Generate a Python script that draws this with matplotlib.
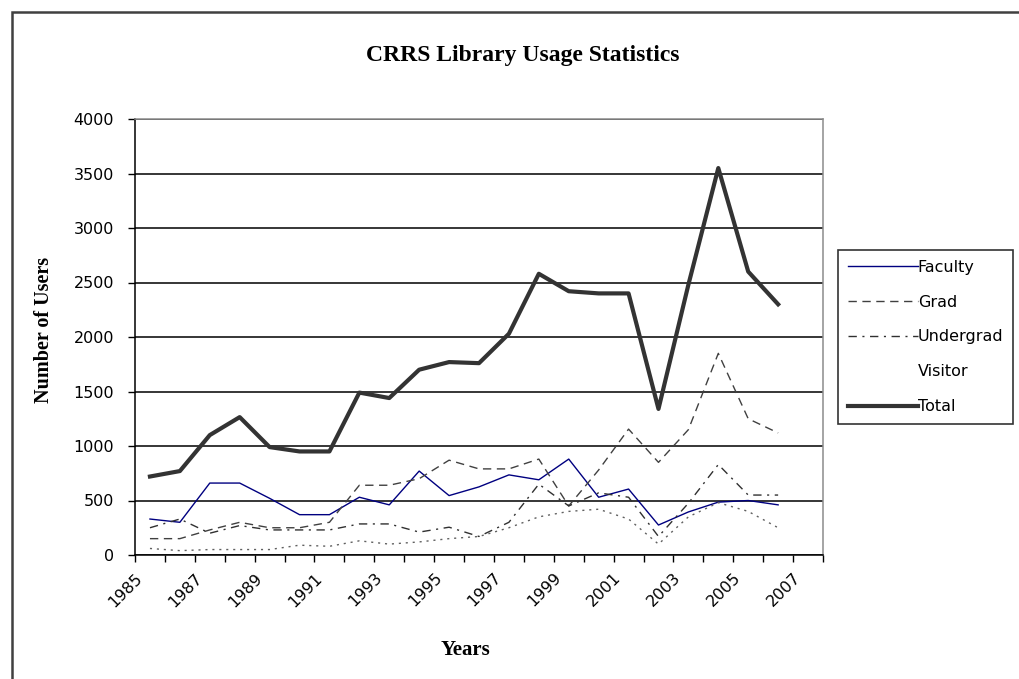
import matplotlib
matplotlib.use("Agg")
import matplotlib.pyplot as plt
import numpy as np
from matplotlib.patches import Rectangle

# data (one value per year, 1985-2006)
years = list(range(1985, 2007))
faculty = [330, 300, 660, 660, 520, 370, 370, 530, 460, 770, 545, 625, 735, 690, 880, 530, 605, 275, 395, 485, 500, 460]
grad = [150, 150, 230, 300, 250, 250, 300, 640, 640, 700, 870, 790, 790, 880, 450, 780, 1155, 850, 1150, 1850, 1250, 1120]
undergrad = [250, 330, 200, 270, 230, 230, 230, 285, 285, 210, 255, 170, 300, 650, 450, 570, 530, 170, 475, 830, 550, 550]
visitor = [60, 40, 50, 50, 50, 90, 80, 130, 100, 120, 150, 170, 250, 350, 400, 420, 330, 100, 350, 480, 400, 250]
total = [720, 770, 1100, 1265, 990, 950, 950, 1490, 1440, 1700, 1770, 1760, 2030, 2580, 2420, 2400, 2400, 1340, 2480, 3550, 2600, 2300]
tick_years = list(range(1985, 2009))

fig = plt.figure(figsize=(10.2, 6.79), dpi=100)
fig.patches.append(Rectangle((12/1020, -0.2), 1.2, 1.2 - 12/679, transform=fig.transFigure,
                             fill=False, edgecolor="#404040", linewidth=1.8))

ax = fig.add_axes([135/1020, 1 - 555/679, 688/1020, 436/679])
x = np.arange(len(years))

ax.plot(x, faculty, color="#000080", lw=1.0, label="Faculty")
ax.plot(x, grad, color="#404040", lw=1.0, dashes=(6, 4), label="Grad")
ax.plot(x, undergrad, color="#303030", lw=1.0, dashes=(6, 4, 1.5, 4), label="Undergrad")
ax.plot(x, visitor, color="#606060", lw=1.0, dashes=(1.5, 3.5), label="Visitor")
ax.plot(x, total, color="#333333", lw=3.0, label="Total")

ax.set_xlim(-0.5, len(tick_years) - 1.5)
ax.set_ylim(0, 4000)
ax.set_yticks(np.arange(0, 4001, 500))
ax.yaxis.grid(True, color="black", lw=1.1)
ax.set_axisbelow(True)

pos = np.arange(len(tick_years)) - 0.5
labs = [str(y) if i % 2 == 0 else "" for i, y in enumerate(tick_years)]
ax.set_xticks(pos)
ax.set_xticklabels(labs, rotation=45, ha="right", va="top", rotation_mode="anchor")

ax.tick_params(axis="both", direction="out", length=5, width=1, colors="black", labelsize=11.5)
ax.tick_params(axis="x", pad=6)
ax.tick_params(axis="y", pad=10)
for lab in ax.get_xticklabels() + ax.get_yticklabels():
    lab.set_family("DejaVu Sans")

ax.spines["left"].set_color("black")
ax.spines["bottom"].set_color("black")
ax.spines["top"].set_color("#8c8c8c")
ax.spines["right"].set_color("#8c8c8c")
for s in ax.spines.values():
    s.set_linewidth(1.1)

ax.set_ylabel("Number of Users", family="Liberation Serif", weight="bold", fontsize=14.5)
ax.yaxis.set_label_coords(-0.118, 0.516)
ax.set_xlabel("Years", family="Liberation Serif", weight="bold", fontsize=15)
ax.xaxis.set_label_coords(0.48, -0.195)

fig.text(523/1020, 1 - 55/679, "CRRS Library Usage Statistics", ha="center", va="center",
         family="Liberation Serif", weight="bold", fontsize=17)

leg = ax.legend(loc="center left", bbox_to_anchor=(838/1020, 1 - 337/679), bbox_transform=fig.transFigure,
                prop={"family": "DejaVu Sans", "size": 11.5}, frameon=True, fancybox=False,
                edgecolor="black", handlelength=4.4, handletextpad=0.0, labelspacing=1.25,
                borderpad=0.6, borderaxespad=0)
leg.get_frame().set_linewidth(1.2)
leg.get_lines()[3].set_visible(False)

fig.savefig("out.png", dpi=100)
